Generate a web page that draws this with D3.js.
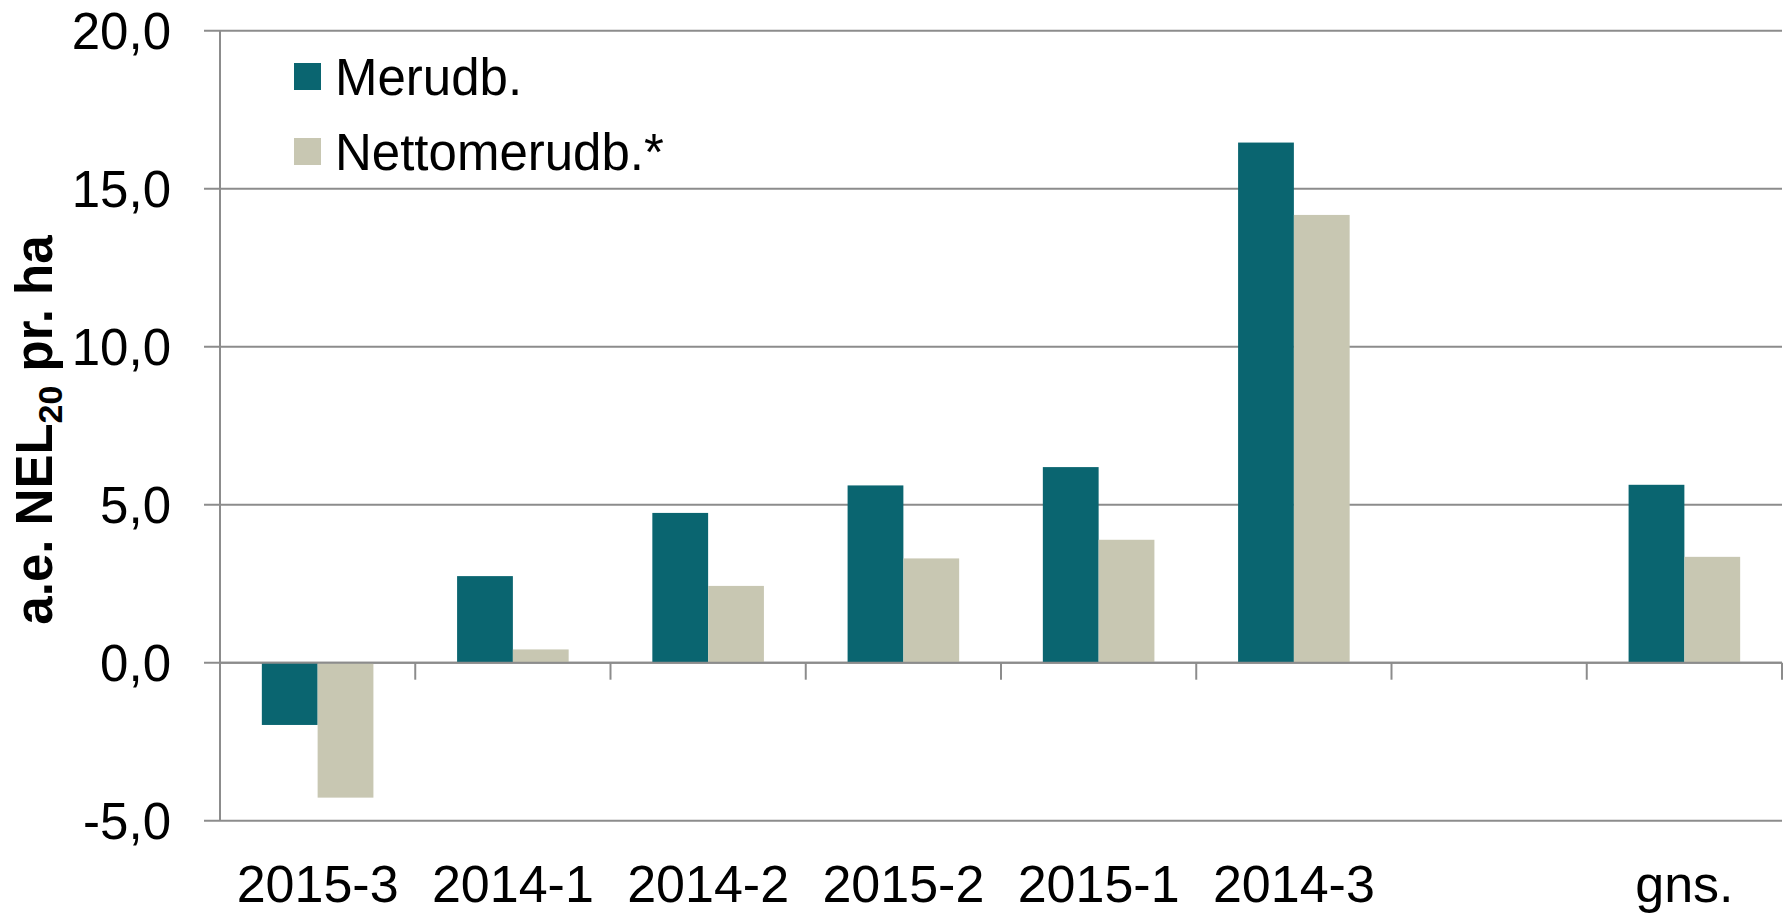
<!DOCTYPE html>
<html>
<head>
<meta charset="utf-8">
<script src="https://cdn.jsdelivr.net/npm/d3@7"></script>
<style>
  html, body { margin: 0; padding: 0; background: #fff; }
  svg { display: block; font-family: "Liberation Sans", Arial, sans-serif; }
</style>
</head>
<body>
<svg id="chart" width="1788" height="913"></svg>
<script>
const categories = ["2015-3", "2014-1", "2014-2", "2015-2", "2015-1", "2014-3", "", "gns."];
const merudb = [-1.97, 2.74, 4.74, 5.61, 6.19, 16.46, null, 5.63];
const netto = [-4.27, 0.42, 2.43, 3.30, 3.89, 14.17, null, 3.35];
const seriesNames = ["Merudb.", "Nettomerudb.*"];
const yTicks = [-5, 0, 5, 10, 15, 20];
const colors = ["#0A6570", "#C8C7B2"];

(function () {
const svg = d3.select("#chart");
const pLeft = 220, pRight = 1782, pTop = 30.7, pBottom = 820.7;

const x = d3.scaleBand().domain(d3.range(categories.length)).range([pLeft, pRight]).paddingInner(0).paddingOuter(0);
const y = d3.scaleLinear().domain([-5, 20]).range([pBottom, pTop]);
const bw = x.bandwidth() / 3.5;
const xs = d3.scaleBand().domain([0, 1]).range([0.75 * bw, 2.75 * bw]);

const gridColor = "#8C8C8C";

// gridlines
svg.append("g").selectAll("line").data(yTicks).join("line")
  .attr("x1", pLeft - 16).attr("x2", pRight)
  .attr("y1", d => y(d)).attr("y2", d => y(d))
  .attr("stroke", gridColor).attr("stroke-width", 2);

// y axis line
svg.append("line").attr("x1", pLeft).attr("x2", pLeft).attr("y1", pTop).attr("y2", pBottom)
  .attr("stroke", gridColor).attr("stroke-width", 2);

// y tick labels
const fmt = d => d3.format(".1f")(d).replace(".", ",").replace("\u2212", "-");
svg.append("g").selectAll("text").data(yTicks).join("text")
  .attr("x", 171).attr("y", d => y(d)).attr("dy", "0.355em")
  .attr("text-anchor", "end").attr("font-size", 51).attr("fill", "#000")
  .text(fmt);

// bars
const series = [merudb, netto];
series.forEach((vals, si) => {
  svg.append("g").selectAll("rect").data(vals.map((v, i) => ({v, i})).filter(d => d.v !== null)).join("rect")
    .attr("x", d => x(d.i) + xs(si))
    .attr("width", xs.bandwidth())
    .attr("y", d => y(Math.max(0, d.v)))
    .attr("height", d => Math.abs(y(d.v) - y(0)))
    .attr("fill", colors[si]);
});

// x axis line at zero
svg.append("line").attr("x1", pLeft).attr("x2", pRight).attr("y1", y(0)).attr("y2", y(0))
  .attr("stroke", gridColor).attr("stroke-width", 2);

// x ticks at category boundaries
const bounds = d3.range(categories.length + 1).map(i => pLeft + i * x.step());
svg.append("g").selectAll("line").data(bounds.slice(1)).join("line")
  .attr("x1", d => d).attr("x2", d => d).attr("y1", y(0)).attr("y2", y(0) + 17)
  .attr("stroke", gridColor).attr("stroke-width", 2);

// x labels
svg.append("g").selectAll("text").data(categories.map((c, i) => ({c, i}))).join("text")
  .attr("x", d => x(d.i) + x.bandwidth() / 2).attr("y", 902)
  .attr("text-anchor", "middle").attr("font-size", 52).attr("fill", "#000")
  .text(d => d.c);

// y axis title
const t = svg.append("text")
  .attr("transform", `translate(52, 430) rotate(-90)`)
  .attr("text-anchor", "middle").attr("font-size", 51).attr("font-weight", "bold").attr("fill", "#000");
t.append("tspan").text("a.e. NEL");
t.append("tspan").attr("font-size", 34).attr("dy", 10).text("20");
t.append("tspan").attr("dy", -10).text(" pr. ha");

// legend
const lg = svg.append("g");
seriesNames.forEach((n, i) => {
  lg.append("rect").attr("x", 294).attr("y", 63 + i * 75).attr("width", 27).attr("height", 27).attr("fill", colors[i]);
  lg.append("text").attr("x", 335).attr("y", 76.5 + i * 75).attr("dy", "0.355em")
    .attr("font-size", 51).attr("fill", "#000").text(n);
});
})();
</script>
</body>
</html>
